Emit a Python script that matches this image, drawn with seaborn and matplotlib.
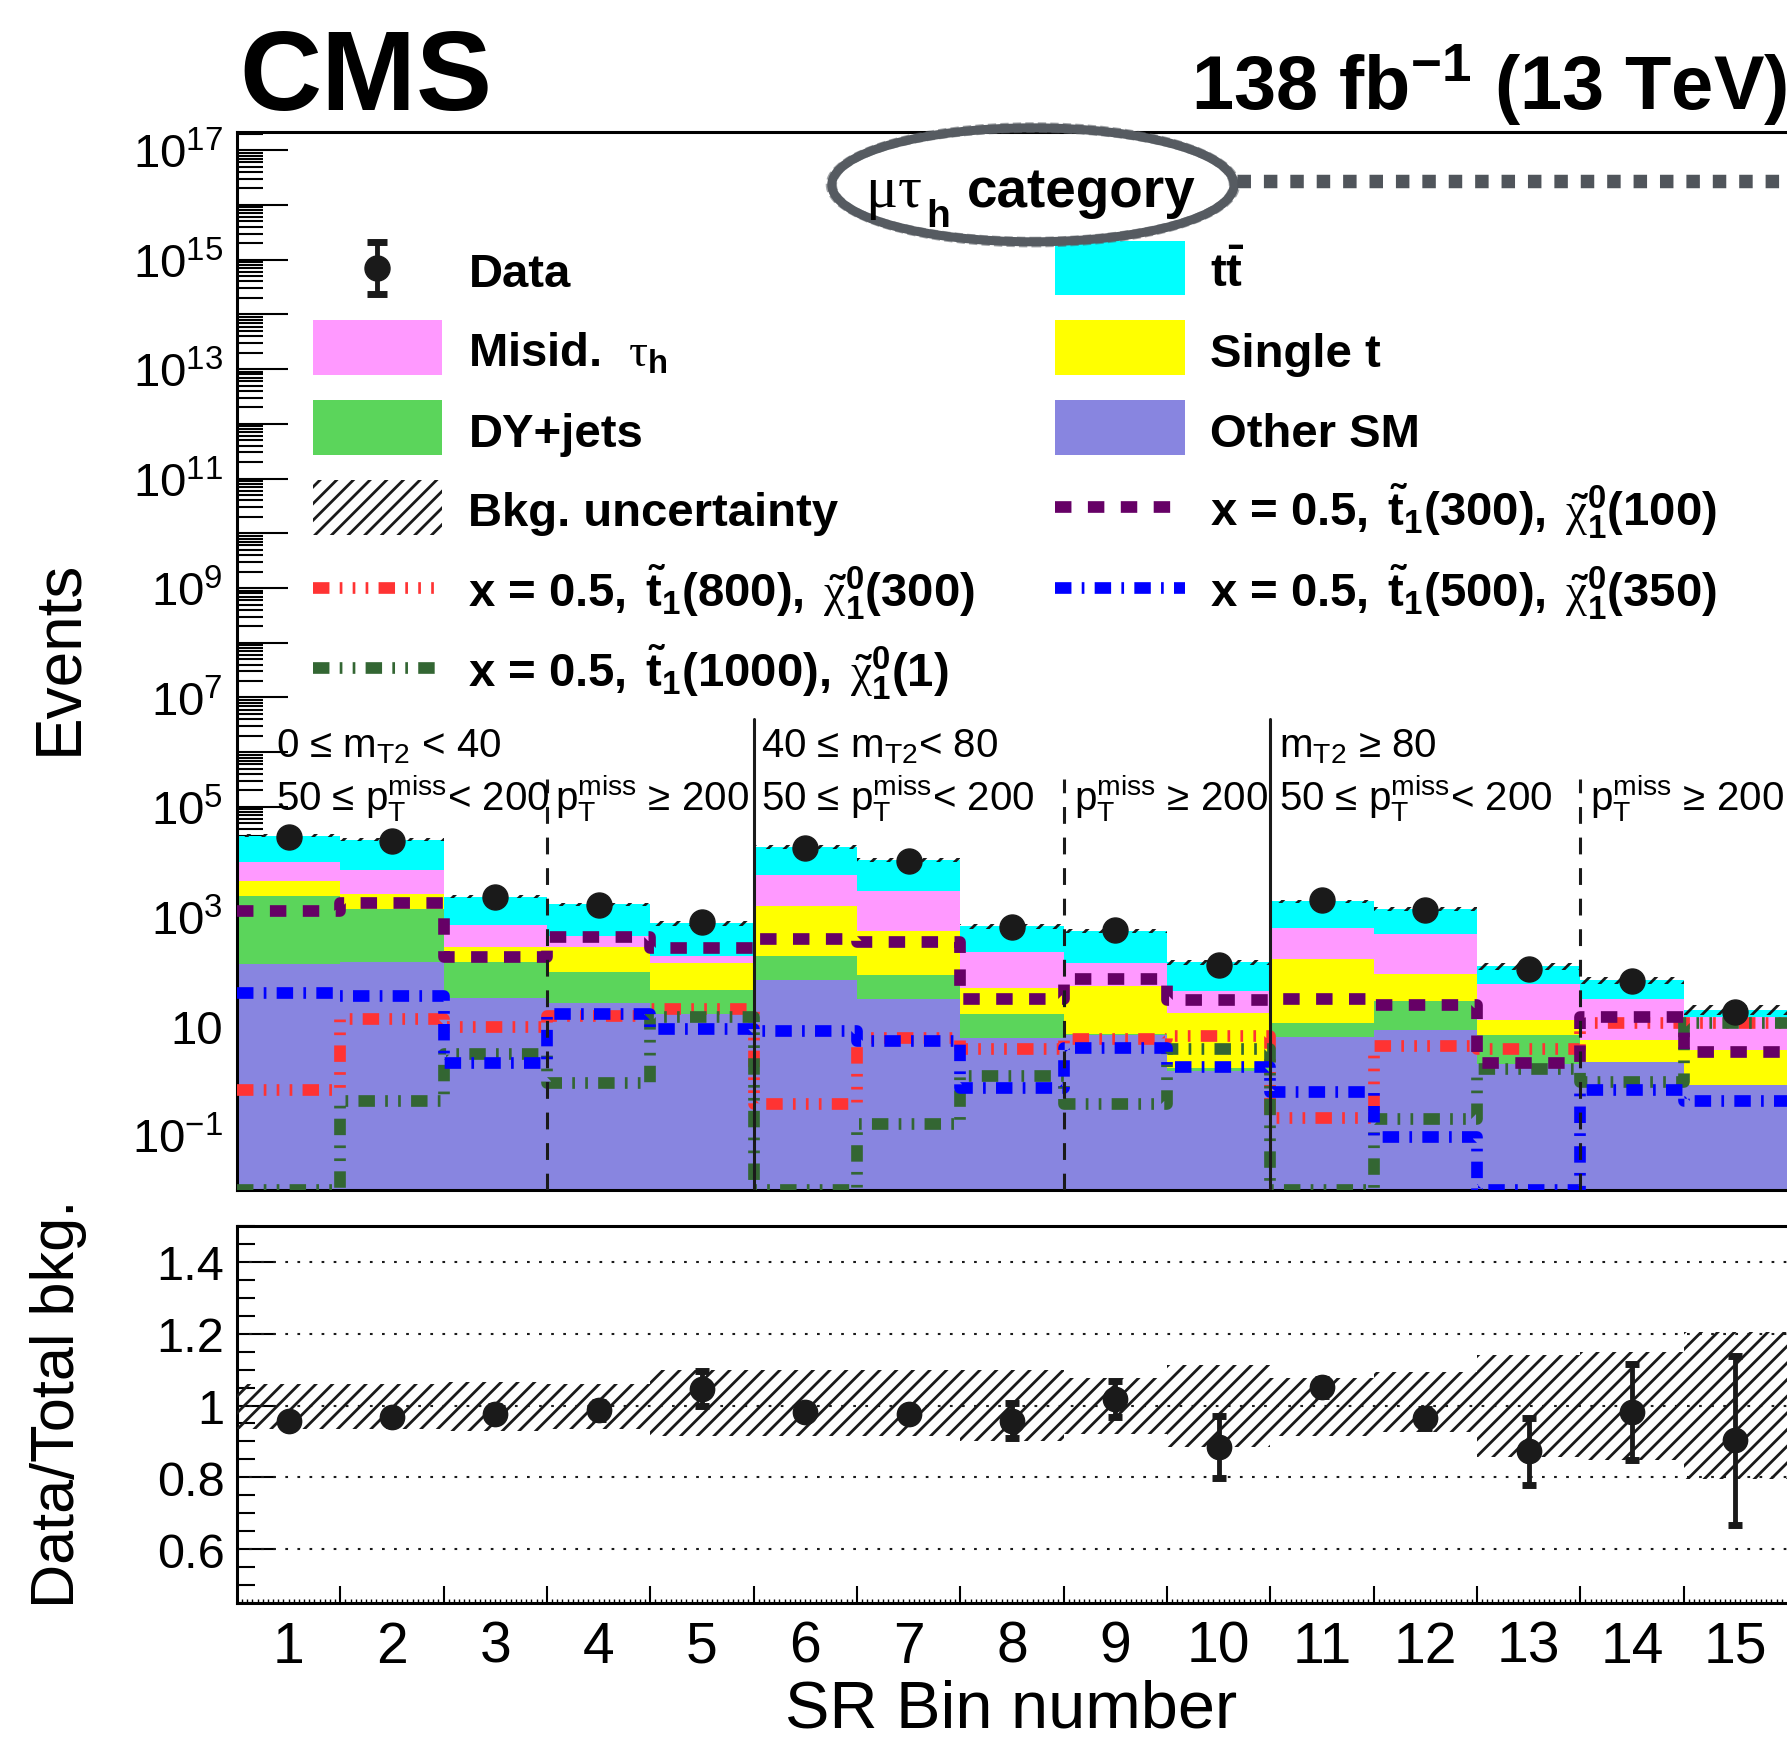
import numpy as np
import pandas as pd
import matplotlib
matplotlib.use("Agg")
import matplotlib.pyplot as plt
import matplotlib.ticker as mticker
import matplotlib.transforms as mtrans
from matplotlib.patches import Ellipse, Rectangle
from matplotlib.lines import Line2D
import seaborn as sns

# ---------------- data ----------------
sr_bins = list(range(1, 16))
tick_labels = [str(b) for b in sr_bins]

other_sm  = [136, 148, 32, 26.7, 16.3, 69.4, 31.6, 6.1, 6.8, 1.5, 6.3, 8.3, 1.99, 2.18, 0.82]
dy_jets   = [2184, 1212, 116, 70.3, 28.6, 120.6, 52.9, 10.7, 0.25, 0.23, 5.2, 20.3, 4.76, 0.05, 0.014]
single_t  = [2170, 1200, 131, 182, 93.1, 1330, 447.5, 32.1, 45.45, 15.77, 154.5, 59.4, 5.95, 3.32, 2.81]
misid_tau = [5510, 4490, 426, 164, 52, 4180, 2418, 174, 89.5, 25, 437, 387, 45.1, 25.25, 11.16]
ttbar     = [19900, 18150, 1585, 1217, 555, 12600, 7750, 442, 405, 103.5, 1277, 885, 67.2, 37.6, 4.8]

data_obs  = [28600, 24370, 2237, 1637, 780, 17950, 10450, 637, 557, 129, 1976, 1312, 109, 67.2, 17.7]
data_err  = [170, 156, 47, 40, 37, 134, 102, 33, 27, 12.6, 45, 36, 11.6, 9.1, 4.6]

unc_lo = [0.935, 0.935, 0.93, 0.935, 0.914, 0.916, 0.916, 0.90, 0.921, 0.884, 0.916, 0.926, 0.856, 0.847, 0.795]
unc_hi = [1.06, 1.06, 1.065, 1.06, 1.10, 1.098, 1.098, 1.098, 1.076, 1.112, 1.076, 1.093, 1.14, 1.149, 1.205]

sig_300_100  = [1270, 1750, 178, 425, 260, 379, 334, 30.8, 71.5, 29.5, 30.8, 24.2, 2.07, 14.8, 3.34]
sig_500_350  = [39.6, 35.4, 2.13, 16.8, 8.7, 7.9, 5.2, 0.745, 4.0, 1.8, 0.63, 0.095, 0.0, 0.675, 0.425]
sig_800_300  = [0.665, 13.6, 9.7, 15.2, 20.2, 0.369, 5.9, 3.85, 5.7, 6.6, 0.21, 4.3, 3.85, 11.5, 11.5]
sig_1000_1   = [0.0, 0.425, 3.03, 0.92, 14.8, 0.0, 0.159, 1.22, 0.369, 3.85, 0.0, 0.2, 1.66, 0.95, 11.2]

region_row1 = [(0.875, "0 ≤ m$_{T2}$ < 40"), (5.57, "40 ≤ m$_{T2}$< 80"), (10.58, "m$_{T2}$ ≥ 80")]
region_row2 = [(0.875, "50 ≤ p$_{T}^{miss}$< 200"), (3.58, "p$_{T}^{miss}$ ≥ 200"),
               (5.57, "50 ≤ p$_{T}^{miss}$< 200"), (8.6, "p$_{T}^{miss}$ ≥ 200"),
               (10.58, "50 ≤ p$_{T}^{miss}$< 200"), (13.59, "p$_{T}^{miss}$ ≥ 200")]
solid_div = [5.5, 10.5]
dashed_div = [3.5, 8.5, 13.5]

# ---------------- style ----------------
C_TT, C_MIS, C_ST, C_DY, C_OTH = "#00ffff", "#ff99ff", "#ffff00", "#5bd55b", "#8885e0"
C_PUR, C_BLU, C_RED, C_GRN = "#660066", "#0000ff", "#ff3333", "#336633"
hue_order = ["tt", "Misid", "Single t", "DY+jets", "Other SM"]  # seaborn stacks last at bottom
palette = {"tt": C_TT, "Misid": C_MIS, "Single t": C_ST, "DY+jets": C_DY, "Other SM": C_OTH}

sns.set_theme(style="ticks")
plt.rcParams.update({
    "font.family": ["Liberation Sans", "DejaVu Sans"],
    "mathtext.fontset": "custom",
    "mathtext.rm": "Liberation Serif",
    "mathtext.it": "Liberation Serif:italic",
    "mathtext.bf": "Liberation Sans:bold",
    "mathtext.default": "regular",
    "axes.edgecolor": "black",
    "axes.linewidth": 2.2,
    "xtick.color": "black",
    "ytick.color": "black",
    "text.color": "black",
    "hatch.linewidth": 2.0,
    "hatch.color": "black",
    "axes.facecolor": "white",
})

LW_SIG = 8.4
DASH_PUR = (1.41, 1.41)
DASH_BLU = (1.41, 0.88, 0.23, 0.88)
DASH_RED = (1.41, 0.88, 0.23, 0.88, 0.23, 0.88, 0.23, 0.88)
DASH_GRN = (1.41, 0.88, 0.23, 0.88, 0.23, 0.88)

YMIN, YMAX = 1e-2, 2.16e17
edges = np.arange(0.5, 15.51, 1.0)
edge_list = edges.tolist()

fig = plt.figure(figsize=(17.87, 17.40), dpi=100)
ax = fig.add_axes([0.1326, 0.3155, 0.8674, 0.6081])
ax2 = fig.add_axes([0.1326, 0.0782, 0.8674, 0.2166])

# ---------------- stacked backgrounds ----------------
stacks = {"tt": ttbar, "Misid": misid_tau, "Single t": single_t, "DY+jets": dy_jets, "Other SM": other_sm}
df = pd.DataFrame({
    "bin": sr_bins * len(hue_order),
    "events": sum([stacks[p] for p in hue_order], []),
    "process": sum([[p] * len(sr_bins) for p in hue_order], []),
})
sns.histplot(data=df, x="bin", weights="events", hue="process", hue_order=hue_order,
             palette=palette, multiple="stack", bins=edge_list, element="bars", shrink=1.0,
             linewidth=0, alpha=1, legend=False, ax=ax)
ax.set_yscale("log")

total = np.sum([np.array(v, float) for v in stacks.values()], axis=0)
lo_ext = np.append(total * np.array(unc_lo), total[-1] * unc_lo[-1])
hi_ext = np.append(total * np.array(unc_hi), total[-1] * unc_hi[-1])
ax.fill_between(edges, lo_ext, hi_ext, step="post", facecolor="none", edgecolor="k",
                hatch="//", linewidth=0, zorder=4)

# ---------------- signals ----------------
for vals, col, dash in [(sig_800_300, C_RED, DASH_RED), (sig_1000_1, C_GRN, DASH_GRN),
                        (sig_500_350, C_BLU, DASH_BLU), (sig_300_100, C_PUR, DASH_PUR)]:
    sdf = pd.DataFrame({"bin": sr_bins, "events": np.clip(vals, YMIN, None)})
    sns.histplot(data=sdf, x="bin", weights="events", bins=edge_list, element="step",
                 fill=False, color=col, linewidth=LW_SIG, linestyle=(0, dash), ax=ax,
                 legend=False, zorder=6)

# ---------------- data ----------------
ax.errorbar(sr_bins, data_obs, yerr=data_err, fmt="o", color="k", ms=18, elinewidth=3,
            capsize=0, zorder=10)

# region dividers
for xv in solid_div:
    ax.axvline(xv, ymin=0, ymax=0.445, color="k", lw=2.2, zorder=7)
for xv in dashed_div:
    ax.axvline(xv, ymin=0, ymax=0.388, color="k", lw=2.2, linestyle=(0, (5.5, 4.5)), zorder=7)

bt = mtrans.blended_transform_factory(ax.transData, ax.transAxes)
for xv, s in region_row1:
    ax.text(xv, 0.4094, s, transform=bt, fontsize=29, va="baseline", ha="left", zorder=8)
for xv, s in region_row2:
    ax.text(xv, 0.3587, s, transform=bt, fontsize=29, va="baseline", ha="left", zorder=8)

# axes formatting (top)
ax.set_xlim(0.5, 15.5)
ax.set_ylim(YMIN, YMAX)
ax.set_xlabel("")
ax.set_ylabel("")
ax.yaxis.set_major_locator(mticker.LogLocator(base=10, numticks=60))
ax.yaxis.set_minor_locator(mticker.LogLocator(base=10, subs=np.arange(2, 10), numticks=60))

def _logfmt(v, pos):
    e = int(round(np.log10(v)))
    if e % 2 == 0:
        return ""
    if e == 1:
        return "10"
    return r"$10^{%d}$" % e

ax.yaxis.set_major_formatter(mticker.FuncFormatter(_logfmt))
ax.yaxis.set_minor_formatter(mticker.NullFormatter())
ax.set_xticks(np.arange(1.0, 15.01, 0.5))
ax.tick_params(axis="x", which="both", direction="in", length=9.5, width=1.5, labelbottom=False)
ax.tick_params(axis="y", which="major", direction="in", length=36.5, width=1.5, labelsize=34, pad=10)
ax.tick_params(axis="y", which="minor", direction="in", length=18.5, width=1.5)
ax.spines["right"].set_visible(False)
for sp in ["left", "bottom", "top"]:
    ax.spines[sp].set_linewidth(2.2)

# ---------------- legend (manual, ROOT-like) ----------------
rows = [0.8715, 0.7962, 0.7207, 0.6453, 0.5688, 0.4934]
bh = 0.0517
c1x0, c1x1, c1t = 0.0493, 0.1324, 0.1493
c2x0, c2x1, c2t = 0.528, 0.6118, 0.628
LFS = 34
boff = 0.0172

ax.errorbar([0.0905], [rows[0]], yerr=[[0.0247], [0.0248]], fmt="o", color="k", ms=18,
            elinewidth=3.5, capsize=7, capthick=5, transform=ax.transAxes, clip_on=False, zorder=12)

def lbox(x0, x1, yc, color, hatch=None):
    if hatch:
        r = Rectangle((x0, yc - bh / 2), x1 - x0, bh, transform=ax.transAxes, facecolor="none",
                      edgecolor="k", hatch=hatch, linewidth=0, zorder=12)
    else:
        r = Rectangle((x0, yc - bh / 2), x1 - x0, bh, transform=ax.transAxes, facecolor=color,
                      edgecolor="none", zorder=12)
    ax.add_patch(r)

def lline(x0, x1, yc, color, dash):
    ax.add_line(Line2D([x0, x1], [yc, yc], transform=ax.transAxes, color=color, lw=LW_SIG,
                       linestyle=(0, dash), zorder=12))

def ltext(x, yc, s, fs=LFS):
    ax.text(x, yc - boff, s, transform=ax.transAxes, fontsize=fs, fontweight="bold",
            va="baseline", ha="left", zorder=12)

ltext(c1t, rows[0], "Data")
lbox(c1x0, c1x1, rows[1], C_MIS); ltext(c1t, rows[1], r"Misid.  $\mathrm{\tau}_{h}$")
lbox(c1x0, c1x1, rows[2], C_DY); ltext(c1t, rows[2], "DY+jets")
lbox(c1x0, c1x1, rows[3], None, hatch="//"); ltext(c1t, rows[3], "Bkg. uncertainty")
lline(c1x0, c1x1, rows[4], C_RED, DASH_RED)
ltext(c1t, rows[4], r"x = 0.5, $\,\tilde{t}_{1}$(800), $\,\tilde{\mathrm{\chi}}^{0}_{1}$(300)")
lline(c1x0, c1x1, rows[5], C_GRN, DASH_GRN)
ltext(c1t, rows[5], r"x = 0.5, $\,\tilde{t}_{1}$(1000), $\,\tilde{\mathrm{\chi}}^{0}_{1}$(1)")

lbox(c2x0, c2x1, rows[0], C_TT); ltext(c2t, rows[0], r"$t\bar{t}$")
lbox(c2x0, c2x1, rows[1], C_ST); ltext(c2t, rows[1], "Single t")
lbox(c2x0, c2x1, rows[2], C_OTH); ltext(c2t, rows[2], "Other SM")
lline(c2x0, c2x1, rows[3], C_PUR, DASH_PUR)
ltext(c2t, rows[3], r"x = 0.5, $\,\tilde{t}_{1}$(300), $\,\tilde{\mathrm{\chi}}^{0}_{1}$(100)")
lline(c2x0, c2x1, rows[4], C_BLU, DASH_BLU)
ltext(c2t, rows[4], r"x = 0.5, $\,\tilde{t}_{1}$(500), $\,\tilde{\mathrm{\chi}}^{0}_{1}$(350)")

# category label with scribbled ellipse
GREY = "#565b61"
ax.add_patch(Ellipse((0.5135, 0.950), 0.2595, 0.1077, transform=ax.transAxes, facecolor="none",
                     edgecolor=GREY, lw=6.5, zorder=12, clip_on=False))
for dw, dh, a in [(0.006, 0.008, 0.55), (-0.005, -0.007, 0.55)]:
    ax.add_patch(Ellipse((0.5135, 0.950), 0.2595 + dw, 0.1077 + dh, transform=ax.transAxes,
                         facecolor="none", edgecolor=GREY, lw=2.0, alpha=a, zorder=12,
                         clip_on=False, linestyle=(0, (3, 1.5))))
ax.text(0.405, 0.9297, r"$\mathrm{\mu\tau}$", transform=ax.transAxes, fontsize=43,
        va="baseline", ha="left", zorder=13)
ax.text(0.4445, 0.9110, "h", transform=ax.transAxes, fontsize=28, fontweight="bold",
        va="baseline", ha="left", zorder=13)
ax.text(0.4707, 0.9297, "category", transform=ax.transAxes, fontsize=39.5, fontweight="bold",
        va="baseline", ha="left", zorder=13)
ax.add_line(Line2D([0.645, 1.0], [0.9533, 0.9533], transform=ax.transAxes, color="#50555b",
                   lw=9.7, linestyle=(0, (1.0, 0.96)), zorder=12, clip_on=False))

# ---------------- ratio panel ----------------
ratio = np.array(data_obs) / total
ratio_err = np.array(data_err) / total
ax2.fill_between(edges, np.append(unc_lo, unc_lo[-1]), np.append(unc_hi, unc_hi[-1]), step="post",
                 facecolor="none", edgecolor="k", hatch="//", linewidth=0, zorder=3)
for yv in [0.6, 0.8, 1.0, 1.2, 1.4]:
    ax2.axhline(yv, color="k", lw=1.5, linestyle=(0, (1.3, 4.5)), zorder=2)
ax2.errorbar(sr_bins, ratio, yerr=ratio_err, fmt="o", color="k", ms=17.5, elinewidth=3.5,
             capsize=5, capthick=5, zorder=10)
ax2.set_xlim(0.5, 15.5)
ax2.set_ylim(0.45, 1.5)
ax2.set_yticks([0.6, 0.8, 1.0, 1.2, 1.4])
ax2.set_yticklabels(["0.6", "0.8", "1", "1.2", "1.4"])
ax2.yaxis.set_minor_locator(mticker.MultipleLocator(0.05))
ax2.set_xticks(edges[1:-1])
ax2.set_xticks(np.arange(0.5, 15.5, 0.05), minor=True)
ax2.tick_params(axis="x", which="major", direction="in", length=12, width=1.5, labelbottom=False)
ax2.tick_params(axis="x", which="minor", direction="in", length=3, width=1)
ax2.tick_params(axis="y", which="major", direction="in", length=27, width=1.5, labelsize=35, pad=9)
ax2.tick_params(axis="y", which="minor", direction="in", length=13, width=1.5)
ax2.spines["right"].set_visible(False)
for sp in ["left", "bottom", "top"]:
    ax2.spines[sp].set_linewidth(2.2)
ax2.set_xlabel("")
ax2.set_ylabel("")

sec = ax2.secondary_xaxis("bottom")
sec.set_xticks(sr_bins, tick_labels)
sec.tick_params(length=0, pad=12, labelsize=41)
sec.spines["bottom"].set_visible(False)

# ---------------- titles / axis labels ----------------
fig.text(0.1337, 0.937, "CMS", fontsize=82, fontweight="bold", va="baseline", ha="left")
fig.text(1.0, 0.937, r"138 fb$^{-1}$ (13 TeV)", fontsize=54.5, fontweight="bold",
         va="baseline", ha="right")
fig.text(0.033, 0.622, "Events", rotation=90, fontsize=46, ha="center", va="center")
fig.text(0.033, 0.193, "Data/Total bkg.", rotation=90, fontsize=44, ha="center", va="center")
fig.text(0.566, 0.007, "SR Bin number", fontsize=48, ha="center", va="baseline")

fig.savefig("out.png", dpi=100)
